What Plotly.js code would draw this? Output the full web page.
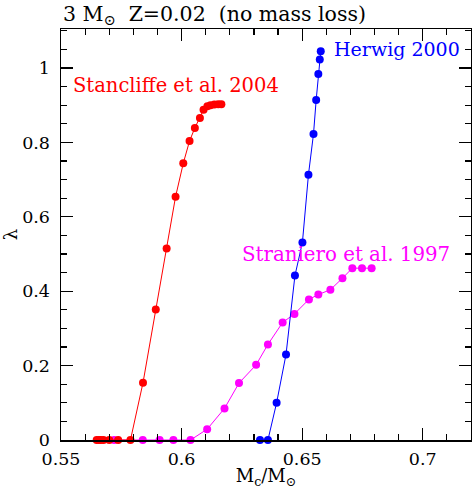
<!DOCTYPE html>
<html>
<head>
<meta charset="utf-8">
<script src="https://cdn.plot.ly/plotly-3.0.1.min.js"></script>
<style>html,body{margin:0;padding:0;background:#fff;}#chart{width:472px;height:489px;}</style>
</head>
<body>
<div id="chart"></div>
<script>
// Stancliffe et al. 2004 (red)
const redX = [0.5648, 0.5657, 0.5665, 0.5676, 0.5700, 0.5737, 0.5788, 0.5840, 0.5893, 0.5938, 0.5975, 0.6007, 0.6033, 0.6055, 0.6076, 0.6091, 0.6107, 0.6120, 0.6136, 0.6152, 0.6165];
const redY = [0, 0, 0, 0, 0, 0, 0, 0.154, 0.351, 0.515, 0.654, 0.744, 0.804, 0.839, 0.866, 0.888, 0.897, 0.900, 0.902, 0.903, 0.903];
// Herwig 2000 (blue)
const blueX = [0.6325, 0.6358, 0.6394, 0.6433, 0.6470, 0.6501, 0.6526, 0.6547, 0.6558, 0.6567, 0.6573, 0.6577];
const blueY = [0, 0, 0.100, 0.230, 0.442, 0.531, 0.713, 0.823, 0.914, 0.984, 1.023, 1.045];
// Straniero et al. 1997 (magenta)
const magX = [0.5720, 0.5839, 0.5909, 0.5966, 0.6037, 0.6106, 0.6178, 0.6238, 0.6309, 0.6358, 0.6419, 0.6468, 0.6528, 0.6567, 0.6617, 0.6667, 0.6708, 0.6748, 0.6788];
const magY = [0, 0, 0, 0, 0, 0.029, 0.085, 0.153, 0.202, 0.257, 0.316, 0.339, 0.378, 0.391, 0.404, 0.435, 0.462, 0.462, 0.462];

const seriesNames = ['Straniero et al. 1997', 'Stancliffe et al. 2004', 'Herwig 2000'];
const titleText = '3 M<sub>\u2299</sub>\u00A0\u00A0Z=0.02\u00A0\u00A0(no mass loss)';
const xTitle = 'M<sub>c</sub>/M<sub>\u2299</sub>';
const yTitle = '\u03bb';

const FONT = 'DejaVu Serif';
function tr(x, y, color, name) {
  return {x: x, y: y, name: name, type: 'scatter', mode: 'lines+markers',
    line: {color: color, width: 1}, marker: {color: color, size: 8}, cliponaxis: false};
}
const data = [
  tr(magX, magY, '#ff00ff', seriesNames[0]),
  tr(redX, redY, '#ff0000', seriesNames[1]),
  tr(blueX, blueY, '#0000ff', seriesNames[2])
];
const axisCommon = {
  showgrid: false, zeroline: false, showline: true, linecolor: '#000', linewidth: 1.5,
  mirror: 'allticks', ticks: 'inside', ticklen: 12, tickwidth: 1.2, tickcolor: '#000',
  tickfont: {family: FONT, size: 17.5, color: '#000'}
};
const layout = {
  width: 472, height: 489,
  margin: {l: 61, r: 1, t: 29, b: 49},
  paper_bgcolor: '#fff', plot_bgcolor: '#fff',
  showlegend: false,
  font: {family: FONT, color: '#000'},
  xaxis: Object.assign({}, axisCommon, {
    range: [0.55, 0.72], dtick: 0.05, tick0: 0.55, ticklabelstandoff: 2,
    minor: {dtick: 0.01, ticks: 'inside', ticklen: 6, tickcolor: '#000', tickwidth: 1.2},
    title: {text: xTitle, font: {family: FONT, size: 18}, standoff: 11}
  }),
  yaxis: Object.assign({}, axisCommon, {
    range: [0, 1.105], dtick: 0.2, tick0: 0, ticklabelstandoff: 6,
    minor: {dtick: 0.05, ticks: 'inside', ticklen: 6, tickcolor: '#000', tickwidth: 1.2},
    title: {text: yTitle, font: {family: FONT, size: 18}, standoff: 8}
  }),
  annotations: [
    {text: titleText, xref: 'paper', yref: 'paper', x: 0, y: 1, xanchor: 'left', yanchor: 'bottom',
     yshift: -1, xshift: 0, showarrow: false, font: {family: FONT, size: 20.5, color: '#000'}},
    {text: seriesNames[1], xref: 'x', yref: 'y', x: 0.5540, y: 0.954, xanchor: 'left', yanchor: 'middle',
     showarrow: false, font: {family: FONT, size: 19.5, color: '#ff0000'}},
    {text: seriesNames[2], xref: 'x', yref: 'y', x: 0.6623, y: 1.051, xanchor: 'left', yanchor: 'middle',
     showarrow: false, font: {family: FONT, size: 19, color: '#0000ff'}},
    {text: seriesNames[0], xref: 'x', yref: 'y', x: 0.6241, y: 0.50, xanchor: 'left', yanchor: 'middle',
     showarrow: false, font: {family: FONT, size: 19.8, color: '#ff00ff'}}
  ]
};
Plotly.newPlot('chart', data, layout, {staticPlot: true, displayModeBar: false});
</script>
</body>
</html>
